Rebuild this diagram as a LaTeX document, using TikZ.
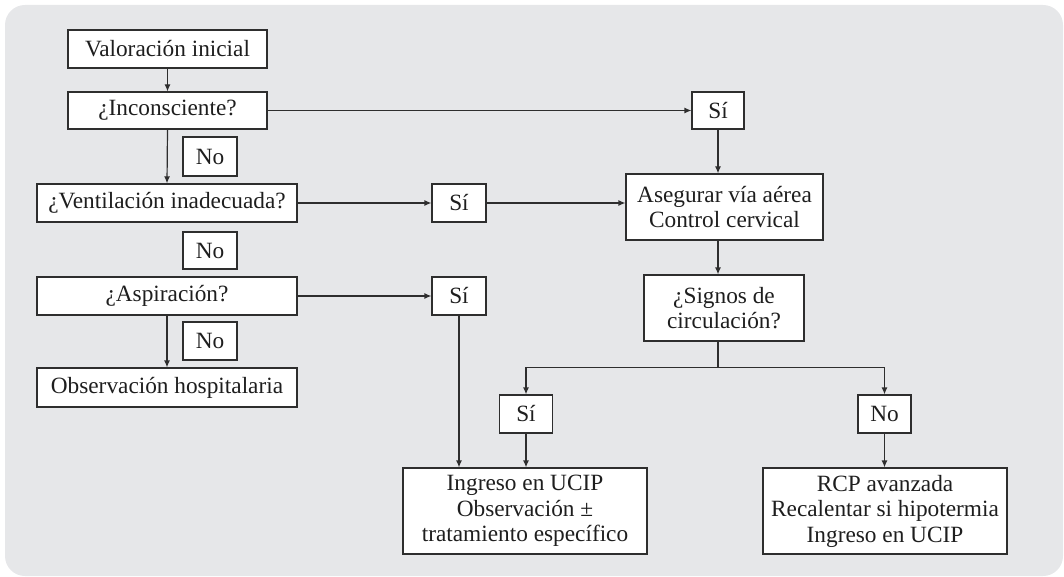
\documentclass[tikz,border=0pt]{standalone}
\usepackage{fontspec}
\setmainfont{Liberation Serif}
\usetikzlibrary{arrows.meta}
\definecolor{bgc}{HTML}{E6E7E9}
\definecolor{linec}{HTML}{2E2E2E}
\definecolor{txtc}{HTML}{1E1E1E}
\begin{document}
\begin{tikzpicture}[x=1pt,y=-1pt,
  box/.style={draw=linec,fill=white,line width=1.2pt,inner sep=0pt,align=center,
    text=txtc,font=\fontsize{23.3}{25.5}\selectfont},
  conn/.style={draw=linec,line width=1.2pt},
  arr/.style={conn,-{Latex[length=7pt,width=6pt]}}]
\useasboundingbox (0,0) rectangle (1064,577);
\fill[bgc,rounded corners=20pt] (5,5) rectangle (1063,576);
% left column
\node[box,minimum width=199pt,minimum height=38pt] (val) at (167.5,49) {Valoración inicial};
\node[box,minimum width=199pt,minimum height=37pt] (inc) at (167.5,110.5) {¿Inconsciente?};
\node[box,minimum width=54pt,minimum height=39pt] (no1) at (210,156.5) {No};
\node[box,minimum width=260pt,minimum height=38pt] (ven) at (167,203) {¿Ventilación inadecuada?};
\node[box,minimum width=54pt,minimum height=37pt] (no2) at (210,250.5) {No};
\node[box,minimum width=260pt,minimum height=38pt] (asp) at (167,296) {¿Aspiración?};
\node[box,minimum width=54pt,minimum height=38pt] (no3) at (210,341) {No};
\node[box,minimum width=260pt,minimum height=39pt] (obs) at (167,387.5) {Observación hospitalaria};
% middle / right
\node[box,minimum width=52pt,minimum height=37pt] (si1) at (718,110.5) {Sí};
\node[box,minimum width=54pt,minimum height=38pt] (si2) at (459,203) {Sí};
\node[box,minimum width=54pt,minimum height=38pt] (si3) at (459,296) {Sí};
\node[box,minimum width=197pt,minimum height=66pt] (ase) at (724.5,207) {Asegurar vía aérea\\Control cervical};
\node[box,minimum width=160pt,minimum height=66pt] (sig) at (724,308) {¿Signos de\\circulación?};
\node[box,minimum width=53pt,minimum height=38pt] (si4) at (526,414) {Sí};
\node[box,minimum width=53pt,minimum height=38pt] (no4) at (884.5,414) {No};
\node[box,minimum width=244pt,minimum height=86pt] (ing) at (525,511) {Ingreso en UCIP\\Observación ±\\tratamiento específico};
\node[box,minimum width=244pt,minimum height=86pt] (rcp) at (885,511) {RCP avanzada\\Recalentar si hipotermia\\Ingreso en UCIP};
% connectors
\draw[arr] (val.south) -- (inc.north);
\draw[arr] (inc.south) -- (ven.north);
\draw[arr] (asp.south) -- (obs.north);
\draw[arr] (inc.east) -- (si1.west);
\draw[arr] (ven.east) -- (si2.west);
\draw[arr] (asp.east) -- (si3.west);
\draw[arr] (si2.east) -- (si2.east -| ase.west);
\draw[arr] (si1.south) -- (si1.south |- ase.north);
\draw[arr] (ase.south -| si1.south) -- (sig.north -| si1.south);
\draw[conn] (sig.south -| si1.south) -- ++(0,26) coordinate (split);
\draw[arr] (split) -| (si4.north);
\draw[arr] (split) -| (no4.north);
\draw[arr] (si4.south) -- (si4.south |- ing.north);
\draw[arr] (si3.south) -- (si3.south |- ing.north);
\draw[arr] (no4.south) -- (no4.south |- rcp.north);
\end{tikzpicture}
\end{document}
